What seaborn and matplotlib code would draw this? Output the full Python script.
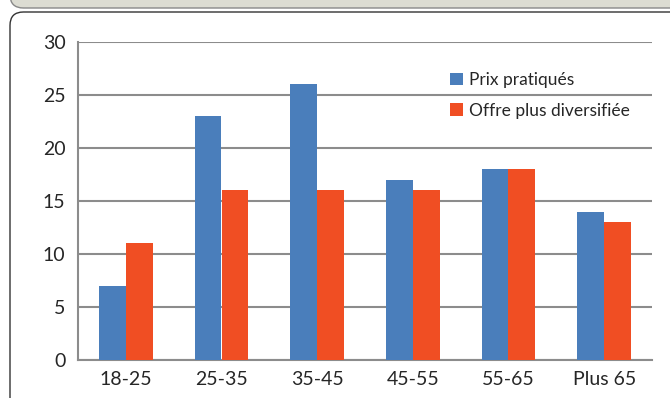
import pandas as pd
import matplotlib.pyplot as plt
import seaborn as sns
from matplotlib.patches import FancyBboxPatch
from matplotlib.ticker import FixedLocator


categories=["18-25","25-35","35-45","45-55","55-65","Plus 65"]
prix=[7,23,26,17,18,14]
offre=[11,16,16,16,18,13]
series=["Prix pratiqués","Offre plus diversifiée"]

df=pd.DataFrame({
    "age":categories*2,
    "val":prix+offre,
    "serie":[series[0]]*6+[series[1]]*6,
})

sns.set_style("white")
plt.rcParams["font.family"]=["Lato","DejaVu Sans"]

fig=plt.figure(figsize=(6.7,3.98),dpi=100)

#frame
fig.patches.append(FancyBboxPatch((10/670,-20/398),700/670,(398-12+20)/398,
    boxstyle="round,pad=0,rounding_size=0.02",transform=fig.transFigure,
    facecolor="white",edgecolor="#333333",linewidth=1.0,mutation_aspect=670/398,zorder=-5))
fig.patches.append(FancyBboxPatch((10/670,1-8/398),700/670,30/398,
    boxstyle="round,pad=0,rounding_size=0.02",transform=fig.transFigure,
    facecolor="#dcdcd2",edgecolor="#888888",linewidth=1.0,mutation_aspect=670/398,zorder=-5))

ax=fig.add_axes([78/670,38/398,574/670,318/398])
ax.set_facecolor("none")
sns.barplot(data=df,x="age",y="val",hue="serie",palette=["#4a7ebb","#f04e23"],
    width=0.56,gap=0,saturation=1,linewidth=0,ax=ax,zorder=3)

ax.set_ylim(0,30)
ax.set_xlim(-0.5,5.5)
ax.set_yticks([0,5,10,15,20,25,30])
ax.yaxis.grid(True,color="#8c8c8c",linewidth=1.5,zorder=0)
ax.set_axisbelow(True)
ax.set_xlabel("")
ax.set_ylabel("")
for s in ["top","right"]:
    ax.spines[s].set_visible(False)
for s in ["left","bottom"]:
    ax.spines[s].set_color("#8c8c8c")
    ax.spines[s].set_linewidth(1.5)
ax.xaxis.set_minor_locator(FixedLocator([i-0.5 for i in range(7)]))
ax.tick_params(axis="x",which="major",length=0,labelsize=14,pad=8)
ax.tick_params(axis="x",which="minor",length=5,width=1.5,color="#8c8c8c",direction="out")
ax.tick_params(axis="y",length=5,width=1.5,color="#8c8c8c",direction="out",labelsize=14,pad=4)

ax.legend(loc="upper left",bbox_to_anchor=(0.62,0.955),frameon=False,fontsize=12.5,
    handlelength=0.75,handleheight=0.75,handletextpad=0.4,labelspacing=0.85)

plt.savefig("out.png",dpi=100)
